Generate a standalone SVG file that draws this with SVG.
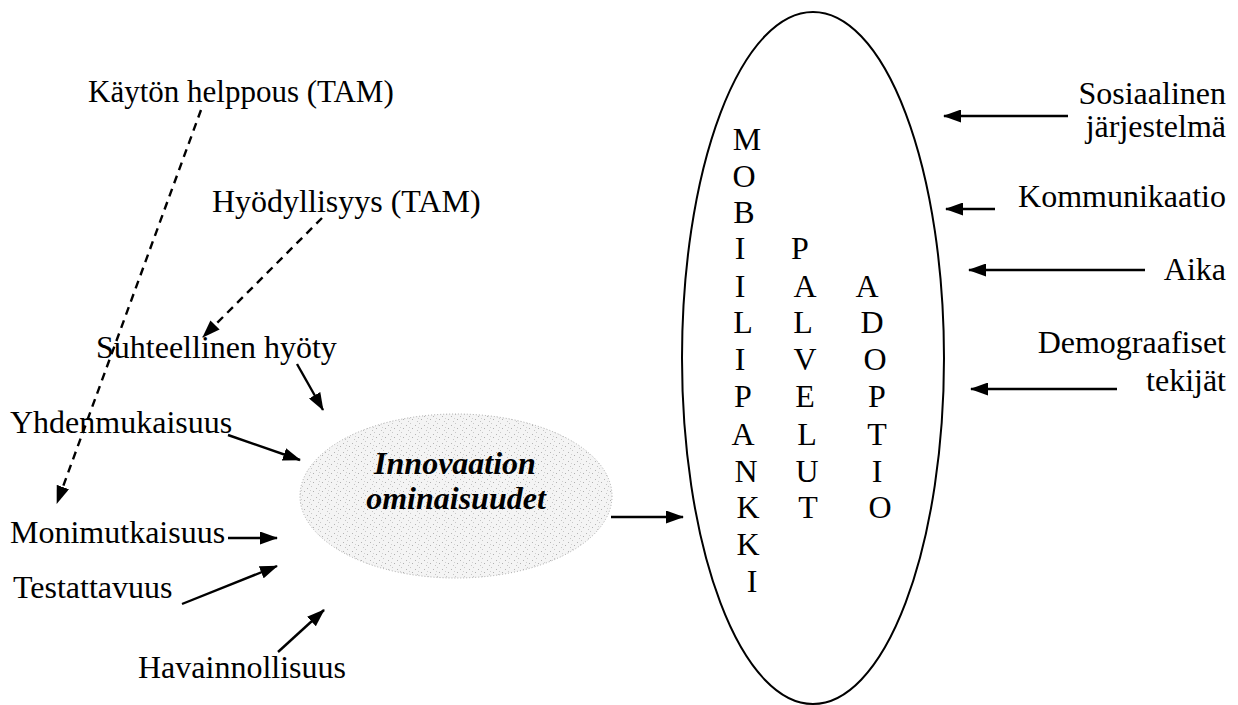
<svg xmlns="http://www.w3.org/2000/svg" width="1238" height="705" viewBox="0 0 1238 705">
<style>
.t{font-family:'Liberation Serif','Times New Roman','DejaVu Serif',serif;font-size:32px;fill:#000}
.c{text-anchor:middle}
.r{text-anchor:end}
.bi{font-weight:bold;font-style:italic}
.ln{stroke:#000;stroke-width:2.4;fill:none}
.ds{stroke-dasharray:8 6}
</style>
<defs>
<marker id="ah" viewBox="0 0 18 13" refX="17" refY="6.5" markerWidth="18" markerHeight="13" orient="auto" markerUnits="userSpaceOnUse"><path d="M0,0 L18,6.5 L0,13 z" fill="#000"/></marker>
<pattern id="stipple" width="9" height="9" patternUnits="userSpaceOnUse">
<rect width="9" height="9" fill="#f4f4f4"/>
<rect x="1" y="2" width="1" height="1" fill="#b5b5b5"/>
<rect x="5" y="0" width="1" height="1" fill="#c8c8c8"/>
<rect x="7" y="5" width="1" height="1" fill="#b0b0b0"/>
<rect x="3" y="7" width="1" height="1" fill="#c4c4c4"/>
<rect x="4" y="4" width="1" height="1" fill="#d0d0d0"/>
</pattern>
</defs>
<rect width="1238" height="705" fill="#fff"/>
<g id="mobiili" class="t">
<ellipse cx="813" cy="358" rx="131" ry="346" fill="none" stroke="#000" stroke-width="2"/>
<g class="c">
<text x="747" y="150">M</text><text x="744" y="187">O</text><text x="744" y="223">B</text><text x="740" y="259">I</text><text x="740" y="297">I</text><text x="743" y="333">L</text><text x="740" y="370">I</text><text x="743" y="407">P</text><text x="743" y="445">A</text><text x="746" y="482">N</text><text x="748" y="518">K</text><text x="748" y="555">K</text><text x="752" y="592">I</text>
<text x="800" y="259">P</text><text x="805" y="297">A</text><text x="803" y="333">L</text><text x="805" y="370">V</text><text x="805" y="407">E</text><text x="807" y="445">L</text><text x="807" y="482">U</text><text x="808" y="518">T</text>
<text x="867" y="297">A</text><text x="872" y="333">D</text><text x="875" y="370">O</text><text x="877" y="407">P</text><text x="877" y="445">T</text><text x="877" y="482">I</text><text x="880" y="518">O</text>
</g>
</g>
<g id="innovaatio" class="t">
<ellipse cx="456" cy="496" rx="156" ry="82" fill="url(#stipple)" stroke="#a8a8a8" stroke-width="1" stroke-dasharray="1 2"/>
<text class="c bi" x="455" y="474">Innovaation</text>
<text class="c bi" x="456" y="509">ominaisuudet</text>
</g>
<g class="t">
<g id="kaytto"><text x="88" y="102" font-size="31">Käytön helppous (TAM)</text></g>
<g id="hyodyllisyys"><text x="212" y="212">Hyödyllisyys (TAM)</text></g>
<g id="suhteellinen"><text x="96" y="358">Suhteellinen hyöty</text></g>
<g id="yhdenmukaisuus"><text x="10" y="433">Yhdenmukaisuus</text></g>
<g id="monimutkaisuus"><text x="10" y="543">Monimutkaisuus</text></g>
<g id="testattavuus"><text x="13" y="598">Testattavuus</text></g>
<g id="havainnollisuus"><text x="138" y="678">Havainnollisuus</text></g>
<g id="sosiaalinen"><text class="r" x="1226" y="104">Sosiaalinen</text><text class="r" x="1226" y="137">järjestelmä</text></g>
<g id="kommunikaatio"><text class="r" x="1226" y="207">Kommunikaatio</text></g>
<g id="aika"><text class="r" x="1226" y="280">Aika</text></g>
<g id="demografiset"><text class="r" x="1226" y="353">Demograafiset</text><text class="r" x="1226" y="391">tekijät</text></g>
</g>
<g id="connectors">
<line class="ln ds" x1="201" y1="110" x2="57" y2="503" marker-end="url(#ah)"/>
<line class="ln ds" x1="322" y1="218" x2="203" y2="337" marker-end="url(#ah)"/>
<line class="ln" x1="297" y1="364" x2="323" y2="410" marker-end="url(#ah)"/>
<line class="ln" x1="228" y1="435" x2="300" y2="460" marker-end="url(#ah)"/>
<line class="ln" x1="228" y1="538" x2="277" y2="538" marker-end="url(#ah)"/>
<line class="ln" x1="182" y1="604" x2="277" y2="566" marker-end="url(#ah)"/>
<line class="ln" x1="278" y1="652" x2="324" y2="610" marker-end="url(#ah)"/>
<line class="ln" x1="611" y1="517" x2="683" y2="517" marker-end="url(#ah)"/>
<line class="ln" x1="1068" y1="116" x2="944" y2="116" marker-end="url(#ah)"/>
<line class="ln" x1="995" y1="209" x2="946" y2="209" marker-end="url(#ah)"/>
<line class="ln" x1="1145" y1="270" x2="969" y2="270" marker-end="url(#ah)"/>
<line class="ln" x1="1117" y1="389" x2="971" y2="389" marker-end="url(#ah)"/>
</g>
</svg>
